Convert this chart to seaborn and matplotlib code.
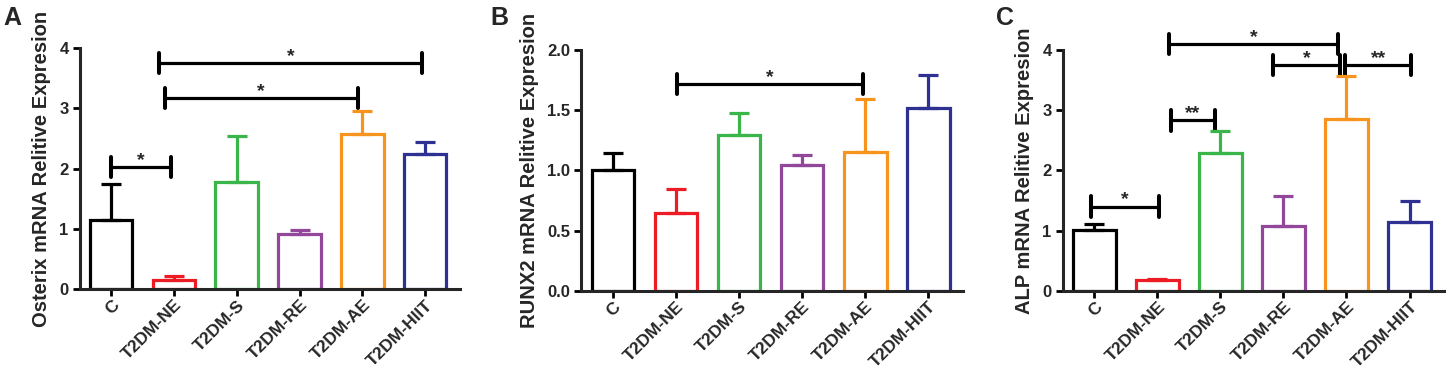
import numpy as np
import pandas as pd
import matplotlib
matplotlib.use("Agg")
import matplotlib.pyplot as plt
import seaborn as sns

# groups and colours
groups = ["C", "T2DM-NE", "T2DM-S", "T2DM-RE", "T2DM-AE", "T2DM-HIIT"]
colors = ["#000000", "#ED1C24", "#39B54A", "#92479B", "#F7941D", "#2E3192"]

# panel A - Osterix
osterix_mean = [1.15, 0.15, 1.77, 0.91, 2.57, 2.25]
osterix_sem = [0.59, 0.06, 0.77, 0.07, 0.38, 0.19]
# panel B - RUNX2
runx2_mean = [1.00, 0.65, 1.295, 1.045, 1.15, 1.52]
runx2_sem = [0.145, 0.20, 0.185, 0.085, 0.44, 0.27]
# panel C - ALP
alp_mean = [1.01, 0.18, 2.29, 1.07, 2.86, 1.15]
alp_sem = [0.10, 0.01, 0.36, 0.50, 0.71, 0.34]

# significance brackets: (x start, x end, bar height, label)
osterix_sig = [(0.0, 0.95, 2.03, "*"), (0.85, 3.93, 3.17, "*"), (0.76, 4.95, 3.75, "*")]
runx2_sig = [(1.02, 3.97, 1.72, "*")]
alp_sig = [(-0.05, 1.03, 1.40, "*"), (1.21, 1.92, 2.83, "**"), (1.19, 3.87, 4.10, "*"),
           (2.84, 3.90, 3.75, "*"), (3.98, 5.03, 3.75, "**")]

sns.set_style("ticks")
plt.rcParams['font.family'] = ['Liberation Sans', 'DejaVu Sans']
plt.rcParams['font.weight'] = 'bold'

fig = plt.figure(figsize=(14.5, 3.73), dpi=100)

panels = [
    ("A", osterix_mean, osterix_sem, osterix_sig, "Osterix mRNA Relitive Expresion",
     [0.055, 0.225, 0.262, 0.646], 4, [0, 1, 2, 3, 4], "{:.0f}", 0.0),
    ("B", runx2_mean, runx2_sem, runx2_sig, "RUNX2 mRNA Relitive Expresion",
     [0.401, 0.220, 0.263, 0.646], 2, [0, 0.5, 1.0, 1.5, 2.0], "{:.1f}", 0.3365),
    ("C", alp_mean, alp_sem, alp_sig, "ALP mRNA Relitive Expresion",
     [0.733, 0.220, 0.263, 0.646], 4, [0, 1, 2, 3, 4], "{:.0f}", 0.685),
]

lw = 2.3
for letter, means, sems, sigs, ylabel, rect, ymax, yticks, fmt, lx in panels:
    ax = fig.add_axes(rect)
    df = pd.DataFrame({"group": groups, "value": means})
    sns.barplot(data=df, x="group", y="value", hue="group", palette=colors,
                fill=False, linewidth=lw, width=0.68, legend=False, ax=ax)
    # one-sided (upper) error bars, GraphPad style
    for i, (m, s) in enumerate(zip(means, sems)):
        ax.errorbar(i, m, yerr=[[0], [s]], fmt="none", ecolor=colors[i],
                    elinewidth=lw, capsize=7.5, capthick=lw, zorder=3)
    cap = 0.042 * ymax
    for x1, x2, y, lab in sigs:
        ax.plot([x1, x2], [y, y], color="black", lw=lw, clip_on=False, solid_capstyle="butt")
        ax.plot([x1, x1], [y - cap, y + cap], color="black", lw=lw + 0.6, clip_on=False)
        ax.plot([x2, x2], [y - cap, y + cap], color="black", lw=lw + 0.6, clip_on=False)
        ax.annotate(lab, ((x1 + x2) / 2, y), xytext=(0, 1.5), textcoords="offset points",
                    ha="center", va="baseline", fontsize=14, fontweight="bold",
                    annotation_clip=False)
    ax.set_xlim(-0.5, 5.55)
    ax.set_ylim(0, ymax)
    ax.set_yticks(yticks)
    ax.set_yticklabels([fmt.format(t) for t in yticks], fontsize=12, fontweight="bold")
    ax.set_xticks(range(len(groups)))
    ax.set_xticklabels(groups, rotation=45, ha="right", rotation_mode="anchor",
                       fontsize=12.5, fontweight="bold")
    ax.set_xlabel("")
    ax.set_ylabel(ylabel, fontsize=14.5, fontweight="bold", labelpad=6)
    sns.despine(ax=ax)
    for sp in ["left", "bottom"]:
        ax.spines[sp].set_linewidth(2.2)
    ax.tick_params(axis="both", width=2, length=5, color="black", pad=3)
    ax.tick_params(axis="x", pad=1)
    fig.text(lx + 0.002, 0.985, letter, fontsize=18, fontweight="bold", va="top", ha="left")

fig.savefig("out.png", dpi=100)
